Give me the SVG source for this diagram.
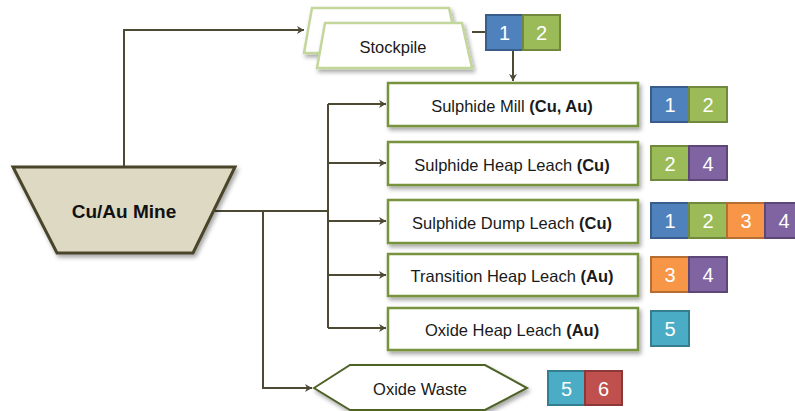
<svg xmlns="http://www.w3.org/2000/svg" width="795" height="411" viewBox="0 0 795 411">
<style>
.t{font-family:"Liberation Sans",Arial,sans-serif;font-size:16.5px;fill:#1a1a1a;text-anchor:middle}
.b{font-weight:bold}
.n{font-family:"Liberation Sans",Arial,sans-serif;font-size:20px;fill:#ffffff;text-anchor:middle}
.box{fill:#ffffff;stroke:#77933C;stroke-width:2.5}
.c{fill:none;stroke:#4d4935;stroke-width:2}
.bl{fill:#4F81BD;stroke:#385D8A;stroke-width:2}
.gr{fill:#9BBB59;stroke:#71893F;stroke-width:2}
.or{fill:#F79646;stroke:#B66D31;stroke-width:2}
.pu{fill:#8064A2;stroke:#5C4776;stroke-width:2}
.te{fill:#4BACC6;stroke:#357D91;stroke-width:2}
.re{fill:#C0504D;stroke:#8C3836;stroke-width:2}
</style>
<defs>
<filter id="sh" x="-10%" y="-10%" width="130%" height="140%">
<feDropShadow dx="2" dy="3" stdDeviation="2" flood-color="#000" flood-opacity="0.35"/>
</filter>
<marker id="ar" markerWidth="10" markerHeight="10" refX="8" refY="5" orient="auto" markerUnits="userSpaceOnUse">
<path d="M1,1 L8,5 L1,9 L3,5 Z" fill="#4d4935"/>
</marker>
</defs>
<g id="connectors">
<path class="c" d="M124,167 V30 H304" marker-end="url(#ar)"/>
<path class="c" d="M215,211 H328"/>
<path class="c" d="M328,104 V328"/>
<path class="c" d="M328,104 H386" marker-end="url(#ar)"/>
<path class="c" d="M328,163 H386" marker-end="url(#ar)"/>
<path class="c" d="M328,221 H386" marker-end="url(#ar)"/>
<path class="c" d="M328,275 H386" marker-end="url(#ar)"/>
<path class="c" d="M328,328 H386" marker-end="url(#ar)"/>
<path class="c" d="M263,211 V388 H312" marker-end="url(#ar)"/>
<path class="c" d="M472,32 H486"/>
<path class="c" d="M513,50 V81" marker-end="url(#ar)"/>
</g>
<g id="mine">
<path d="M13,167 H235 L193,253 H57 Z" fill="#DDD9C3" stroke="#4A452A" stroke-width="3" filter="url(#sh)"/>
<text class="t b" x="124" y="218" style="font-size:19px;fill:#111">Cu/Au Mine</text>
</g>
<g id="stockpile">
<path d="M312,8 H449 L459,53 H304 Z" fill="#ffffff" stroke="#C3D69B" stroke-width="2.5" filter="url(#sh)"/>
<path d="M325,23 H462 L472,68 H317 Z" fill="#ffffff" stroke="#C3D69B" stroke-width="2.5" filter="url(#sh)"/>
<text class="t" x="393" y="53">Stockpile</text>
<rect class="bl" x="486" y="15" width="37" height="35"/><text class="n" x="504.5" y="40">1</text>
<rect class="gr" x="523" y="15" width="37" height="35"/><text class="n" x="541.5" y="40">2</text>
</g>
<g id="sulphide-mill">
<rect class="box" x="388" y="83" width="250" height="43" filter="url(#sh)"/>
<text class="t" x="512" y="112">Sulphide Mill <tspan class="b">(Cu, Au)</tspan></text>
<rect class="bl" x="651" y="87" width="38" height="35"/><text class="n" x="670" y="112">1</text>
<rect class="gr" x="689" y="87" width="38" height="35"/><text class="n" x="708" y="112">2</text>
</g>
<g id="sulphide-heap-leach">
<rect class="box" x="388" y="142" width="250" height="43" filter="url(#sh)"/>
<text class="t" x="512" y="170.5">Sulphide Heap Leach <tspan class="b">(Cu)</tspan></text>
<rect class="gr" x="651" y="146" width="38" height="34"/><text class="n" x="670" y="170.5">2</text>
<rect class="pu" x="689" y="146" width="38" height="34"/><text class="n" x="708" y="170.5">4</text>
</g>
<g id="sulphide-dump-leach">
<rect class="box" x="388" y="200" width="250" height="43" filter="url(#sh)"/>
<text class="t" x="512" y="228.5">Sulphide Dump Leach <tspan class="b">(Cu)</tspan></text>
<rect class="bl" x="651" y="203" width="38" height="35"/><text class="n" x="670" y="228">1</text>
<rect class="gr" x="689" y="203" width="38" height="35"/><text class="n" x="708" y="228">2</text>
<rect class="or" x="727" y="203" width="38" height="35"/><text class="n" x="746" y="228">3</text>
<rect class="pu" x="765" y="203" width="38" height="35"/><text class="n" x="784" y="228">4</text>
</g>
<g id="transition-heap-leach">
<rect class="box" x="388" y="254" width="250" height="42" filter="url(#sh)"/>
<text class="t" x="512" y="282">Transition Heap Leach <tspan class="b">(Au)</tspan></text>
<rect class="or" x="651" y="257" width="38" height="35"/><text class="n" x="670" y="282">3</text>
<rect class="pu" x="689" y="257" width="38" height="35"/><text class="n" x="708" y="282">4</text>
</g>
<g id="oxide-heap-leach">
<rect class="box" x="388" y="308" width="250" height="42" filter="url(#sh)"/>
<text class="t" x="512" y="336">Oxide Heap Leach <tspan class="b">(Au)</tspan></text>
<rect class="te" x="651" y="311" width="38" height="35"/><text class="n" x="670" y="336">5</text>
</g>
<g id="oxide-waste">
<path d="M314,388 L350,365 H485 L527,388 L485,410 H350 Z" fill="#ffffff" stroke="#4F6228" stroke-width="2" filter="url(#sh)"/>
<text class="t" x="420" y="395">Oxide Waste</text>
<rect class="te" x="548" y="371" width="37" height="34"/><text class="n" x="566.5" y="396">5</text>
<rect class="re" x="585" y="371" width="37" height="34"/><text class="n" x="603.5" y="396">6</text>
</g>
</svg>
